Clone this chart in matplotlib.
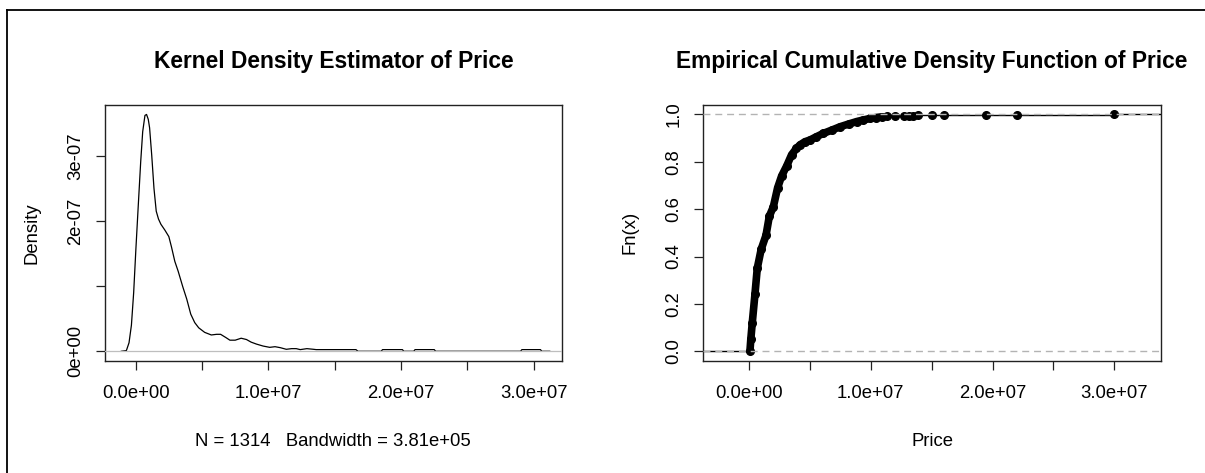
import numpy as np
import matplotlib
matplotlib.use("Agg")
import matplotlib.pyplot as plt
from matplotlib.lines import Line2D

plt.rcParams['font.family'] = ['Liberation Sans', 'DejaVu Sans']
plt.rcParams['font.size'] = 13.3

# kernel density estimate of price (price in millions, density in 1e-7)
kde_price = [-1.08, -0.70, -0.50, -0.32, -0.15, 0.02, 0.20, 0.38, 0.53, 0.70,
             0.82, 0.95, 1.05, 1.21, 1.38, 1.55, 1.72, 1.90, 2.20, 2.50,
             2.70, 2.95, 3.20, 3.55, 3.85, 4.15, 4.45, 4.75, 5.20, 5.70,
             6.10, 6.40, 6.80, 7.10, 7.50, 7.95, 8.35, 8.70, 9.10, 9.60,
             10.10, 10.50, 10.90, 11.35, 11.75, 12.10, 12.40, 12.90, 13.40, 13.60,
             16.60, 16.75, 18.50, 18.60, 20.10, 20.20, 20.95, 21.05, 22.50, 22.60,
             29.00, 29.10, 30.50, 30.60, 31.20]
kde_density = [0.0, 0.01, 0.13, 0.40, 0.90, 1.58, 2.25, 2.91, 3.37, 3.62,
               3.635, 3.56, 3.43, 3.01, 2.50, 2.15, 2.03, 1.95, 1.86, 1.76,
               1.60, 1.38, 1.23, 0.99, 0.80, 0.57, 0.44, 0.36, 0.29, 0.25,
               0.26, 0.26, 0.21, 0.17, 0.17, 0.20, 0.18, 0.14, 0.11, 0.08,
               0.06, 0.07, 0.055, 0.03, 0.04, 0.04, 0.025, 0.04, 0.03, 0.025,
               0.025, 0.0, 0.0, 0.025, 0.025, 0.0, 0.0, 0.025, 0.025, 0.0,
               0.0, 0.025, 0.025, 0.0, 0.0]
n_obs = 1314
bandwidth = 3.81e5

# empirical cdf: dense part of the sample and the sparse upper tail
ecdf_price = [0.08, 0.15, 0.27, 0.49, 0.68, 1.0, 1.4, 1.67, 2.0, 2.35,
              2.68, 3.1, 3.5, 3.9, 4.2, 4.6, 5.0, 5.5, 6.1, 6.8,
              7.47, 8.2, 8.84, 9.4, 9.93, 10.4, 10.9]
ecdf_frac = [0.0008, 0.05, 0.12, 0.24, 0.35, 0.43, 0.49, 0.57, 0.61, 0.69,
             0.74, 0.783, 0.83, 0.857, 0.872, 0.885, 0.892, 0.905, 0.92, 0.934,
             0.948, 0.96, 0.97, 0.977, 0.983, 0.987, 0.99]
tail_price = [11.3, 12.0, 12.7, 13.1, 13.5, 13.9, 15.0, 16.0, 19.5, 22.0, 30.0]
tail_frac = [0.9924, 0.9932, 0.9939, 0.9947, 0.9954, 0.9962, 0.9970, 0.9977,
             0.9985, 0.9992, 1.0]

x_ticks = [0, 5e6, 1e7, 1.5e7, 2e7, 2.5e7, 3e7]
x_ticklabels = ["0.0e+00", "", "1.0e+07", "", "2.0e+07", "", "3.0e+07"]
kde_yticks = [0, 1e-7, 2e-7, 3e-7]
kde_yticklabels = ["0e+00", "", "2e-07", "3e-07"]
ecdf_yticks = [0.0, 0.2, 0.4, 0.6, 0.8, 1.0]
ecdf_yticklabels = ["0.0", "0.2", "0.4", "0.6", "0.8", "1.0"]

fig = plt.figure(figsize=(12.05, 4.73), dpi=100)
W, H = 1205, 473
ax1 = fig.add_axes([105 / W, 1 - 360.7 / H, 456.7 / W, 255.7 / H])
ax2 = fig.add_axes([703.3 / W, 1 - 360.7 / H, 457.7 / W, 255.7 / H])


def r_style(ax):
    for s in ax.spines.values():
        s.set_linewidth(1.0)
        s.set_color('#222222')
    ax.tick_params(direction='out', length=6.5, width=0.9, color='#222222')
    ax.tick_params(axis='x', pad=11)
    ax.tick_params(axis='y', pad=8.5)
    for lab in ax.get_yticklabels():
        lab.set_rotation(90)
        lab.set_va('center')


# density panel
kx = np.array(kde_price) * 1e6
ky = np.array(kde_density) * 1e-7
ax1.plot(kx, ky, color='black', lw=0.9, zorder=2)
ax1.axhline(0, color='#BEBEBE', lw=0.9, zorder=3)
ax1.set_xlim(-2.31e6, 32.1e6)
ax1.set_ylim(-0.145e-7, 3.78e-7)
ax1.set_xticks(x_ticks)
ax1.set_xticklabels(x_ticklabels)
ax1.set_yticks(kde_yticks)
ax1.set_yticklabels(kde_yticklabels)
r_style(ax1)
ax1.set_title("Kernel Density Estimator of Price", fontsize=16.4,
              fontweight='bold', pad=27)
ax1.set_xlabel("N = %d   Bandwidth = %.2e" % (n_obs, bandwidth), va='top')
ax1.xaxis.set_label_coords(0.5, -0.283)
ax1.set_ylabel("Density")
ax1.yaxis.set_label_coords(-0.142, 0.5)

# ecdf panel
ex = np.array(ecdf_price) * 1e6
tx = np.array(tail_price) * 1e6
xlo, xhi = -3.75e6, 33.83e6
ax2.set_xlim(xlo, xhi)
ax2.set_ylim(-0.04, 1.04)
ax2.hlines(0, xlo, ex[0], color='black', lw=1.0, zorder=2)
ax2.plot(ex, ecdf_frac, color='black', lw=5.5, solid_capstyle='round',
         solid_joinstyle='round', marker='o', ms=5.5, zorder=2)
step_x = np.concatenate([[ex[-1]], tx])
step_y = [ecdf_frac[-1]] + tail_frac
ax2.hlines(step_y[:-1], step_x[:-1], step_x[1:], color='black', lw=1.0, zorder=2)
ax2.hlines(step_y[-1], step_x[-1], xhi, color='black', lw=1.0, zorder=2)
ax2.plot(tx, tail_frac, 'o', color='black', ms=5.5, zorder=2)
for level in (0, 1):
    ax2.axhline(level, color='#B3B3B3', lw=1.0, ls=(0, (5, 3.5)), zorder=3)
ax2.set_xticks(x_ticks)
ax2.set_xticklabels(x_ticklabels)
ax2.set_yticks(ecdf_yticks)
ax2.set_yticklabels(ecdf_yticklabels)
r_style(ax2)
ax2.set_title("Empirical Cumulative Density Function of Price", fontsize=16.4,
              fontweight='bold', pad=27)
ax2.set_xlabel("Price", va='top')
ax2.xaxis.set_label_coords(0.5, -0.283)
ax2.set_ylabel("Fn(x)")
ax2.yaxis.set_label_coords(-0.142, 0.5)

# frame lines along the top and left edge
fig.add_artist(Line2D([7 / W, 1], [1 - 10 / H, 1 - 10 / H], color='black',
                      lw=1.3, transform=fig.transFigure))
fig.add_artist(Line2D([7 / W, 7 / W], [0, 1 - 10 / H], color='black',
                      lw=1.3, transform=fig.transFigure))

fig.savefig("out.png", dpi=100, facecolor='white')
